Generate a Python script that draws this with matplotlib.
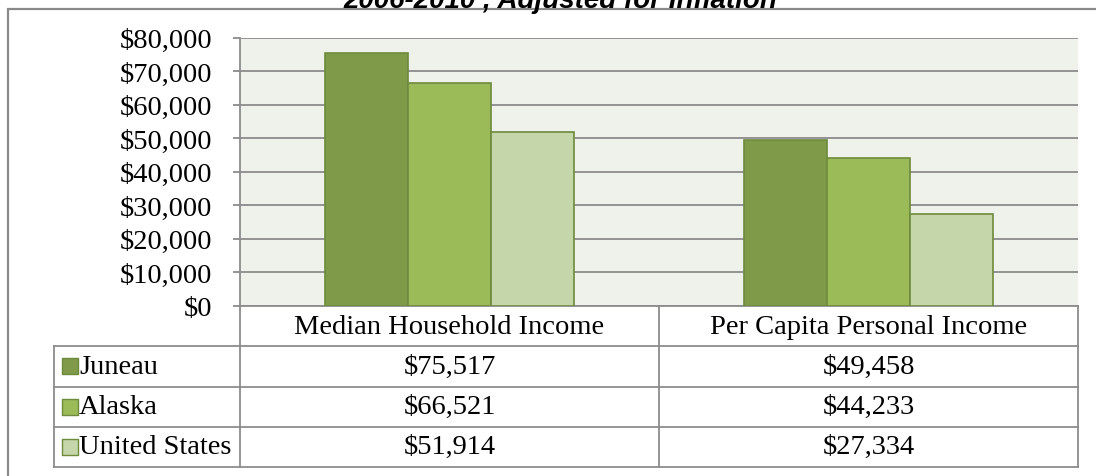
import matplotlib.pyplot as plt
from matplotlib.ticker import FuncFormatter
from matplotlib.patches import Rectangle

categories = ['Median Household Income', 'Per Capita Personal Income']
series = ['Juneau', 'Alaska', 'United States']
juneau = [75517, 49458]
alaska = [66521, 44233]
united_states = [51914, 27334]
values = [juneau, alaska, united_states]
title = '2006-2010 , Adjusted for Inflation'

colors = ['#7f9a48', '#9bbb59', '#c4d6aa']
edge = '#6e8a3c'
grid_c = '#8c8c8c'
font = 'Liberation Serif'
fs = 20.5

fig = plt.figure(figsize=(10.96, 4.77), dpi=100)
W, H = 1096.0, 477.0

# outer chart border (clipped at right/bottom like the reference)
fig.patches.append(Rectangle((8 / W, -0.1), 1.2, 1.1 - 9.5 / H, transform=fig.transFigure,
                             fill=False, edgecolor='#8a8a8a', linewidth=1.6, zorder=0))
fig.text(560 / W, 1 - 7.5 / H, title, ha='center', va='baseline', fontsize=20,
         fontweight='bold', fontstyle='italic', family='Liberation Sans')

ax = fig.add_axes([240 / W, (H - 307) / H, 838 / W, (307 - 38.5) / H])
ax.set_facecolor('#eff2ea')
n = len(series)
bw = 0.198
for i, (name, vals) in enumerate(zip(series, values)):
    xs = [c + (i - (n - 1) / 2) * bw for c in range(len(categories))]
    ax.bar(xs, vals, width=bw, color=colors[i], edgecolor=edge, linewidth=1.2, zorder=3)

ax.set_xlim(-0.5, 1.5)
ax.set_ylim(0, 80000)
ax.set_yticks(range(0, 80001, 10000))
ax.yaxis.set_major_formatter(FuncFormatter(lambda v, p: '${:,.0f}'.format(v)))
ax.yaxis.grid(True, color=grid_c, linewidth=1.3)
ax.set_axisbelow(True)
ax.set_xticks([])
for s in ['top', 'right']:
    ax.spines[s].set_visible(False)
for s in ['left', 'bottom']:
    ax.spines[s].set_color(grid_c)
    ax.spines[s].set_linewidth(1.3)
ax.tick_params(axis='y', length=5, width=1.3, color=grid_c, pad=15, labelsize=fs)
for lab in ax.get_yticklabels():
    lab.set_family(font)

# data table under the chart
px = 419.0
leg_left = -0.5 - (240 - 54) / px
tab = fig.add_axes([54 / W, (H - 468) / H, (1078 - 54) / W, (468 - 307) / H])
tab.set_xlim(leg_left, 1.5)
tab.set_ylim(4, 0)
tab.axis('off')
lc = dict(color=grid_c, linewidth=1.3, clip_on=False)
for r in range(1, 5):
    tab.plot([leg_left, 1.5], [r, r], **lc)
tab.plot([leg_left, leg_left], [1, 4], **lc)
for x in [-0.5, 0.5, 1.5]:
    tab.plot([x, x], [0, 4], **lc)

for j, cat in enumerate(categories):
    tab.text(j, 0.5, cat, ha='center', va='center', fontsize=fs, family=font)
for i, (name, vals) in enumerate(zip(series, values)):
    y = i + 1.5
    tab.scatter([-0.5 - (240 - 70) / px], [y], marker='s', s=140, color=colors[i],
                edgecolor=edge, linewidth=1.0, clip_on=False)
    tab.text(-0.5 - (240 - 79) / px, y, name, ha='left', va='center', fontsize=fs, family=font)
    for j, v in enumerate(vals):
        tab.text(j, y, '${:,}'.format(v), ha='center', va='center', fontsize=fs, family=font)

plt.savefig('out.png', dpi=100)
plt.close()
